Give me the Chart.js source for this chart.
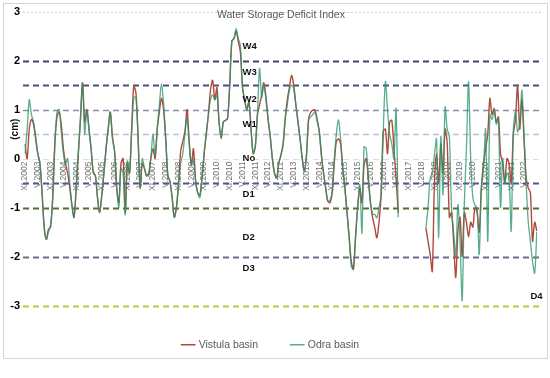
<!DOCTYPE html>
<html>
<head>
<meta charset="utf-8">
<script src="https://cdn.jsdelivr.net/npm/chart.js@4.4.1/dist/chart.umd.min.js"></script>
<style>
  html, body { margin: 0; padding: 0; background: #fff; }
</style>
</head>
<body>
<canvas id="chart" width="550" height="378"></canvas>
<script>
// monthly WSDI values from XI.2002, one row = 12 months (null = no data VII.2017 - VI.2018)
const vistula = [
  0.3, 0.0, 0.6, 0.8, 0.7, 0.4, 0.1, -0.1, -0.7, -1.4, -1.65, -1.45,
  -1.4, -0.8, 0.3, 0.85, 0.95, 0.7, 0.2, -0.1, -0.3, -0.6, -0.95, -1.2,
  -0.6, 0.1, 0.8, 1.55, 0.75, 1.0, 0.6, 0.2, -0.3, -0.35, -0.8, -1.1,
  -0.75, -0.3, 0.2, 0.6, 0.95, 0.45, 0.15, -0.6, -0.9, -0.1, 0.0, -1.1,
  -0.1, -0.3, 0.6, 1.47, 1.35, 0.5, -0.6, -0.1, -0.2, -0.35, -0.3, 0.0,
  0.2, 0.0, 0.6, 0.95, 1.23, 1.0, 0.4, -0.35, -0.47, -0.8, -1.2, -1.0,
  -0.5, 0.15, 0.35, 0.55, 1.0, 0.35, -0.13, 0.2, -0.45, -0.7, -0.75, -0.4,
  0.1, 0.5, 0.9, 1.4, 1.6, 1.2, 1.45, 0.75, 0.41, 0.75, 0.78, 0.82,
  1.5, 2.4, 2.45, 2.6, 2.4, 2.17, 1.45, 1.2, 1.0, 1.16, 0.6, 0.1,
  0.25, 0.9, 1.1, 1.3, 1.55, 1.25, 0.8, 0.45, 0.0, -0.3, -0.4, -0.1,
  0.07, 0.28, 0.8, 1.2, 1.45, 1.7, 1.5, 1.1, 0.75, 0.4, 0.0, -0.26,
  0.07, 0.8, 0.95, 0.99, 0.99, 0.8, 0.55, 0.07, -0.3, -0.6, -0.87, -0.9,
  -0.7, -0.1, 0.35, 0.4, 0.3, -0.2, -0.6, -1.1, -1.6, -2.1, -2.26, -1.6,
  -1.0, -0.6, -0.9, -0.13, 0.0, -0.4, -0.9, -1.2, -1.4, -1.62, -1.3, -0.74,
  0.55, 0.6, 0.1, 0.75, 0.78, 0.2, -0.4, -1.1, null, null, null, null,
  null, null, null, null, null, null, null, null, -1.42, -1.69, -1.96, -2.3,
  -0.5, 0.1, -0.5, 0.3, -0.3, 0.6, 0.3, -1.2, -1.1, -1.7, -2.43, -1.5,
  -1.2, -2.0, -1.1, -1.3, -1.6, -1.3, -1.4, -1.0, -1.1, -1.5, -0.6, -0.1,
  0.2, 0.5, 1.23, 0.9, 1.02, 0.75, 0.85, 0.1, -0.1, -0.5, 0.0, -0.1,
  -0.5, 0.5, 0.8, 1.5, 0.6, 1.2, 0.4, -0.4, -0.6, -0.7, -1.69, -1.3,
  -1.48
]

const odra = [
  0.1, 0.6, 1.2, 0.9, 0.75, 0.45, 0.1, -0.1, -0.7, -1.4, -1.65, -1.5,
  -1.35, -0.8, 0.3, 0.95, 1.0, 0.55, 0.1, -0.1, 0.0, -0.5, -0.95, -1.2,
  -0.6, 0.1, 0.8, 1.55, 0.5, 1.0, 0.6, 0.2, -0.25, -0.35, -0.8, -1.1,
  -0.75, -0.3, 0.2, 0.6, 0.95, 0.4, 0.15, -0.6, -1.0, -0.2, -0.3, -1.15,
  -0.05, -0.3, 0.5, 1.25, 1.25, 0.4, -0.6, 0.0, -0.2, -0.35, -0.35, 0.0,
  0.5, 0.05, 0.6, 1.1, 1.53, 1.1, 0.4, -0.35, -0.47, -0.8, -1.2, -1.0,
  -0.55, -0.1, 0.1, 0.5, 0.85, 0.3, -0.13, 0.0, -0.45, -0.7, -0.8, -0.4,
  0.1, 0.5, 0.9, 1.2, 1.3, 1.2, 1.3, 0.75, 0.41, 0.75, 0.78, 0.82,
  1.5, 2.4, 2.45, 2.65, 2.45, 2.3, 1.45, 1.2, 1.0, 1.16, 0.6, 0.1,
  0.25, 0.9, 1.84, 1.25, 1.5, 1.2, 0.8, 0.45, 0.0, -0.3, -0.4, -0.1,
  0.07, 0.28, 0.8, 1.1, 1.4, 1.5, 1.43, 1.1, 0.75, 0.4, 0.0, -0.26,
  0.07, 0.8, 0.85, 0.9, 0.95, 0.75, 0.55, 0.07, -0.3, -0.6, -0.87, -0.85,
  -0.7, -0.06, 0.5, 0.79, 0.4, -0.2, -0.6, -1.1, -1.6, -2.2, -2.26, -1.6,
  -1.0, -0.54, -1.52, 0.24, 0.2, -0.4, -0.9, -1.14, -1.14, -1.21, -1.0, -0.74,
  0.55, 1.57, 1.0, 0.5, 0.3, 0.0, 1.02, -1.2, null, null, null, null,
  null, null, null, null, null, null, null, null, -1.42, -1.0, -0.4, -0.3,
  0.07, 0.4, -1.62, 0.45, -0.74, 1.05, 0.6, 0.45, -1.0, -1.5, -2.0, -0.94,
  -1.69, -2.9, -0.94, 0.2, 1.57, 0.0, -0.8, -0.95, -1.0, -1.96, -0.6, -0.2,
  0.6, -1.69, 0.9, 0.8, 1.0, 0.7, 0.8, -1.0, 0.0, -0.5, -0.3, -0.4,
  -1.48, 0.6, 0.95, 0.55, 0.7, 1.4, 0.5, -0.5, -1.3, -1.69, -2.1, -2.34,
  -1.5
]

const tickLabels = [
  'XI.2002', 'V.2003', 'XI.2003', 'V.2004', 'XI.2004', 'V.2005', 'XI.2005', 'V.2006',
  'XI.2006', 'V.2007', 'XI.2007', 'V.2008', 'XI.2008', 'V.2009', 'XI.2009', 'V.2010',
  'XI.2010', 'V.2011', 'XI.2011', 'V.2012', 'XI.2012', 'V.2013', 'XI.2013', 'V.2014',
  'XI.2014', 'V.2015', 'XI.2015', 'V.2016', 'XI.2016', 'V.2017', 'XI.2017', 'V.2018',
  'XI.2018', 'V.2019', 'XI.2019', 'V.2020', 'XI.2020', 'V.2021', 'XI.2021', 'V.2022'
]

// drought / wetness class thresholds and class names
const thresholds = [3, 2, 1.5, 1, 0.5, 0, -0.5, -1, -2, -3]
const classNames = ['W4', 'W3', 'W2', 'W1', 'No', 'D1', 'D2', 'D3', 'D4']
const classValues = [2.28, 1.76, 1.2, 0.7, 0, -0.73, -1.6, -2.24, -2.81]

const romans = ['I', 'II', 'III', 'IV', 'V', 'VI', 'VII', 'VIII', 'IX', 'X', 'XI', 'XII']
const months = vistula.map((v, k) => romans[(10 + k) % 12] + '.' + (2002 + Math.floor((10 + k) / 12)))

const FONT = "'Liberation Sans', Arial, sans-serif"

const lineStyles = {
  '3': { color: '#cfcfcf', width: 1, dash: [2, 2] },
  '2': { color: '#3f4470', width: 1.8, dash: [6, 4] },
  '1.5': { color: '#4a5080', width: 1.8, dash: [6, 4] },
  '1': { color: '#8a90b4', width: 1.5, dash: [6, 4] },
  '0.5': { color: '#bcc0d4', width: 1.3, dash: [6, 4] },
  '0': { color: '#dcdce4', width: 1, dash: [6, 4] },
  '-0.5': { color: '#50568f', width: 1.8, dash: [6, 4] },
  '-1': { color: '#5d6a2c', width: 1.8, dash: [6, 4] },
  '-2': { color: '#6c6c8e', width: 1.8, dash: [6, 4] },
  '-3': { color: '#b9c93c', width: 1.8, dash: [6, 4] }
}

const decor = {
  id: 'decor',
  beforeDraw(chart) {
    const { ctx, width, height } = chart
    ctx.save()
    ctx.fillStyle = '#fff'
    ctx.fillRect(0, 0, width, height)
    ctx.strokeStyle = '#d4d4d4'
    ctx.lineWidth = 1
    ctx.strokeRect(3.5, 3.5, 544, 355)
    ctx.restore()
  },
  beforeDatasetsDraw(chart) {
    const { ctx, chartArea } = chart
    const y = chart.scales.y
    ctx.save()
    thresholds.forEach(t => {
      const s = lineStyles[String(t)]
      const py = Math.round(y.getPixelForValue(t)) + 0.5
      ctx.strokeStyle = s.color
      ctx.lineWidth = s.width
      ctx.setLineDash(s.dash)
      ctx.beginPath()
      ctx.moveTo(chartArea.left - 2, py)
      ctx.lineTo(chartArea.right + 4, py)
      ctx.stroke()
    })
    ctx.restore()
  },
  afterDatasetsDraw(chart) {
    const { ctx, chartArea } = chart
    const x = chart.scales.x
    const y = chart.scales.y
    ctx.save()
    ctx.fillStyle = '#111'
    ctx.font = 'bold 9.5px ' + FONT
    ctx.textBaseline = 'middle'
    ctx.textAlign = 'left'
    classNames.forEach((name, k) => {
      const px = name === 'D4' ? x.getPixelForValue(237) : x.getPixelForValue(102)
      ctx.fillText(name, px, y.getPixelForValue(classValues[k]))
    })

    // title
    ctx.fillStyle = '#595959'
    ctx.font = '10.5px ' + FONT
    ctx.textAlign = 'center'
    ctx.fillText('Water Storage Deficit Index', (chartArea.left + chartArea.right) / 2, chartArea.top + 4)

    // axis unit
    ctx.fillStyle = '#111'
    ctx.font = 'bold 10px ' + FONT
    ctx.translate(chartArea.left - 10, y.getPixelForValue(0.6))
    ctx.rotate(-Math.PI / 2)
    ctx.fillText('(cm)', 0, 0)
    ctx.restore()
  }
}

new Chart(document.getElementById('chart'), {
  type: 'line',
  data: {
    labels: months,
    datasets: [
      {
        label: 'Vistula basin',
        data: vistula,
        borderColor: '#b04a3a',
        borderWidth: 1.4,
        order: 2
      },
      {
        label: 'Odra basin',
        data: odra,
        borderColor: 'rgba(40, 150, 110, 0.78)',
        borderWidth: 1.3,
        order: 1
      }
    ]
  },
  options: {
    responsive: false,
    animation: false,
    devicePixelRatio: 1,
    spanGaps: false,
    layout: { padding: { left: 5, right: 13, top: 10, bottom: 18 } },
    elements: {
      point: { radius: 0 },
      line: { tension: 0.3, fill: false }
    },
    scales: {
      x: {
        type: 'category',
        position: { y: 0 },
        grid: { display: false, drawTicks: false },
        border: { display: false },
        ticks: {
          autoSkip: false,
          minRotation: 90,
          maxRotation: 90,
          padding: 3,
          color: '#707070',
          font: { size: 8.5, family: FONT },
          callback(value) {
            const label = this.getLabelForValue(value)
            return tickLabels.includes(label) ? label : ''
          }
        }
      },
      y: {
        min: -3,
        max: 3,
        grid: { display: false, drawTicks: false },
        border: { display: false },
        ticks: {
          stepSize: 1,
          padding: 5,
          color: '#000',
          font: { size: 11, weight: 'bold', family: FONT }
        },
        afterFit(scale) {
          scale.width = 20
        }
      }
    },
    plugins: {
      legend: {
        position: 'bottom',
        labels: {
          usePointStyle: true,
          pointStyle: 'line',
          padding: 34,
          color: '#595959',
          font: { size: 10.5, family: FONT },
          sort: (a, b) => a.datasetIndex - b.datasetIndex
        }
      },
      title: { display: false },
      tooltip: { enabled: false }
    }
  },
  plugins: [decor]
})
</script>
</body>
</html>
